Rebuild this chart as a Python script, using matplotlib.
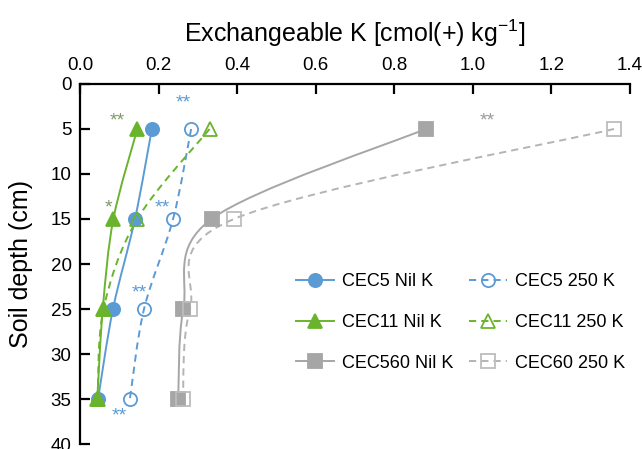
import numpy as np
import matplotlib.pyplot as plt
from matplotlib.path import Path
from matplotlib.patches import PathPatch
from matplotlib.lines import Line2D

# 土壤深度 (cm)
depth = [5, 15, 25, 35]

# 各处理的交换性钾
cec5_nil = [0.183, 0.140, 0.084, 0.046]
cec5_250 = [0.283, 0.237, 0.163, 0.127]
cec11_nil = [0.146, 0.085, 0.058, 0.044]
cec11_250 = [0.330, 0.146, 0.060, 0.045]
cec560_nil = [0.880, 0.335, 0.263, 0.250]
cec60_250 = [1.360, 0.392, 0.280, 0.262]

series_names = ['CEC5 Nil K', 'CEC5 250 K', 'CEC11 Nil K', 'CEC11 250 K',
                'CEC560 Nil K', 'CEC60 250 K']

# 显著性标记 (x, depth, text)
star_x = [0.262, 0.094, 0.072, 0.210, 0.150, 0.100, 1.037]
star_depth = [2.1, 4.1, 13.8, 13.8, 23.2, 36.9, 4.1]
star_text = ['**', '**', '*', '**', '**', '**', '**']

BLUE = '#5b9bd5'
GREEN = '#6ab42d'
GRAY = '#a6a6a6'
star_color = [BLUE, '#7f9a68', '#7f9a68', BLUE, BLUE, BLUE, '#9a9a9a']


def smooth_path(xs, ys):
    """Excel 风格的平滑线 (Catmull-Rom -> Bezier)"""
    pts = np.column_stack([xs, ys]).astype(float)
    n = len(pts)
    verts = [pts[0]]
    codes = [Path.MOVETO]
    for i in range(n - 1):
        p0 = pts[i - 1] if i > 0 else pts[i]
        p1 = pts[i]
        p2 = pts[i + 1]
        p3 = pts[i + 2] if i + 2 < n else pts[i + 1]
        c1 = p1 + (p2 - p0) / 6.0
        c2 = p2 - (p3 - p1) / 6.0
        verts += [c1, c2, p2]
        codes += [Path.CURVE4] * 3
    return Path(verts, codes)


plt.rcParams['font.family'] = ['Liberation Sans', 'DejaVu Sans']
plt.rcParams['mathtext.fontset'] = 'custom'
plt.rcParams['mathtext.rm'] = 'Liberation Sans'
plt.rcParams['lines.dashed_pattern'] = [3.7, 2.6]

fig = plt.figure(figsize=(6.42, 4.49), dpi=100)
ax = fig.add_axes([0.1246, 0.011, 0.8564, 0.802])

styles = [
    (cec5_nil, BLUE, '-', 'o', BLUE, BLUE),
    (cec5_250, BLUE, '--', 'o', 'none', BLUE),
    (cec11_nil, GREEN, '-', '^', GREEN, GREEN),
    (cec11_250, GREEN, '--', '^', 'none', GREEN),
    (cec560_nil, GRAY, '-', 's', GRAY, GRAY),
    (cec60_250, '#b4b4b4', '--', 's', 'none', '#bdbdbd'),
]

handles = []
for (vals, col, ls, mk, fc, ec), name in zip(styles, series_names):
    patch = PathPatch(smooth_path(vals, depth), fill=False, edgecolor=col,
                      lw=1.4, linestyle=ls, zorder=2)
    ax.add_patch(patch)
    ax.plot(vals, depth, linestyle='none', marker=mk, ms=9.5,
            mfc=fc, mec=ec, mew=1.3, zorder=3)
    handles.append(Line2D([], [], color=col, lw=1.4, linestyle=ls, marker=mk,
                          ms=9.5, mfc=fc, mec=ec, mew=1.3))

# 显著性星号
for x, d, t, c in zip(star_x, star_depth, star_text, star_color):
    ax.text(x, d, t, ha='center', va='center', fontsize=14, color=c)

ax.set_xlim(0, 1.4)
ax.set_ylim(40, 0)
ax.set_xticks(np.arange(0, 1.41, 0.2))
ax.set_yticks(range(0, 41, 5))
ax.xaxis.tick_top()
ax.xaxis.set_label_position('top')
ax.set_xticklabels(['%.1f' % v for v in np.arange(0, 1.41, 0.2)])

for side in ['right', 'bottom']:
    ax.spines[side].set_visible(False)
for side in ['left', 'top']:
    ax.spines[side].set_linewidth(1.6)

ax.tick_params(axis='x', direction='in', length=7, width=1.6, pad=7,
               labelsize=13.5)
ax.tick_params(axis='y', direction='in', length=7, width=1.6, pad=6,
               labelsize=13.5)

ax.set_xlabel('Exchangeable K [cmol(+) kg$^{-1}$]', fontsize=18, labelpad=11)
ax.set_ylabel('Soil depth (cm)', fontsize=18, labelpad=13)

order = [0, 2, 4, 1, 3, 5]
ax.legend([handles[i] for i in order], [series_names[i] for i in order],
          ncol=2, frameon=False, fontsize=13, loc='upper left',
          bbox_to_anchor=(0.363, 0.52), handlelength=2.1, handletextpad=0.45,
          columnspacing=0.85, labelspacing=1.32, numpoints=1)

fig.savefig('out.png', dpi=100)
